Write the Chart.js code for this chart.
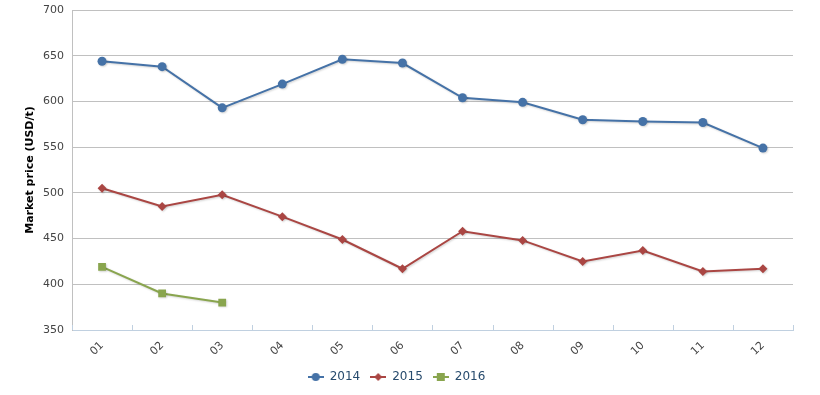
<!DOCTYPE html>
<html>
<head>
<meta charset="utf-8">
<script src="https://cdn.jsdelivr.net/npm/chart.js@4"></script>
<style>
  html, body { margin: 0; padding: 0; background: #fff; }
  #wrap { width: 820px; height: 395px; }
</style>
</head>
<body>
<div id="wrap"><canvas id="chart" width="820" height="395"></canvas></div>
<script>
const months = ['01', '02', '03', '04', '05', '06', '07', '08', '09', '10', '11', '12'];
const price2014 = [644, 638, 593, 619, 646, 642, 604, 599, 580, 578, 577, 549];
const price2015 = [505, 485, 498, 474, 449, 417, 458, 448, 425, 437, 414, 417];
const price2016 = [419, 390, 380];
const yTicks = [350, 400, 450, 500, 550, 600, 650, 700];

const COLORS = { y2014: '#4572A7', y2015: '#AA4643', y2016: '#89A54E' };
const FONT = 'DejaVu Sans, Verdana, sans-serif';

// legend icon: short line with the marker on it
function legendIcon(color, style) {
  const c = document.createElement('canvas');
  c.width = 16;
  c.height = 10;
  const g = c.getContext('2d');
  g.strokeStyle = color;
  g.lineWidth = 2;
  g.beginPath();
  g.moveTo(0, 5);
  g.lineTo(16, 5);
  g.stroke();
  g.fillStyle = color;
  g.beginPath();
  if (style === 'circle') {
    g.arc(8, 5, 4, 0, Math.PI * 2);
  } else if (style === 'rectRot') {
    g.moveTo(8, 1); g.lineTo(12, 5); g.lineTo(8, 9); g.lineTo(4, 5); g.closePath();
  } else {
    g.rect(4, 1, 8, 8);
  }
  g.fill();
  return c;
}

// small tick marks pointing up from the x axis, at category boundaries
const xTickMarks = {
  id: 'xTickMarks',
  afterDatasetsDraw(chart) {
    const x = chart.scales.x;
    const ctx = chart.ctx;
    const half = (x.getPixelForValue(1) - x.getPixelForValue(0)) / 2;
    ctx.save();
    ctx.strokeStyle = '#C0D0E0';
    ctx.lineWidth = 1;
    for (let i = 0; i <= months.length; i++) {
      const px = Math.round(x.getPixelForValue(i) - half) + 0.5;
      ctx.beginPath();
      ctx.moveTo(px, x.top);
      ctx.lineTo(px, x.top - 5);
      ctx.stroke();
    }
    ctx.restore();
  }
};

// faint shadow under the series lines
const lineShadow = {
  id: 'lineShadow',
  beforeDatasetDraw(chart) {
    const ctx = chart.ctx;
    ctx.save();
    ctx.shadowColor = 'rgba(0,0,0,0.18)';
    ctx.shadowBlur = 2;
    ctx.shadowOffsetX = 1;
    ctx.shadowOffsetY = 1;
  },
  afterDatasetDraw(chart) {
    chart.ctx.restore();
  }
};

const series = [
  { label: '2014', data: price2014, color: COLORS.y2014, style: 'circle', r: 4.5 },
  { label: '2015', data: price2015, color: COLORS.y2015, style: 'rectRot', r: 4.5 },
  { label: '2016', data: price2016, color: COLORS.y2016, style: 'rect', r: 5.5 }
];

new Chart(document.getElementById('chart').getContext('2d'), {
  type: 'line',
  data: {
    labels: months,
    datasets: series.map((s) => ({
      label: s.label,
      data: s.data,
      borderColor: s.color,
      backgroundColor: s.color,
      borderWidth: 2,
      pointStyle: s.style,
      pointRadius: s.r,
      pointBorderWidth: 0,
      pointBackgroundColor: s.color,
      tension: 0,
      fill: false
    }))
  },
  options: {
    responsive: false,
    animation: false,
    layout: { padding: { left: 0, right: 27, top: 10, bottom: 2 } },
    plugins: {
      tooltip: { enabled: false },
      legend: {
        position: 'bottom',
        labels: {
          usePointStyle: true,
          pointStyleWidth: 16,
          boxHeight: 10,
          padding: 10,
          color: '#274b6d',
          font: { family: FONT, size: 12 },
          generateLabels(chart) {
            return chart.data.datasets.map((d, i) => ({
              text: d.label,
              fillStyle: d.borderColor,
              strokeStyle: d.borderColor,
              lineWidth: 0,
              pointStyle: legendIcon(series[i].color, series[i].style),
              hidden: false,
              datasetIndex: i,
              fontColor: '#274b6d'
            }));
          }
        }
      }
    },
    scales: {
      x: {
        offset: true,
        grid: { display: false, drawTicks: false },
        border: { display: true, color: '#C0D0E0', width: 1 },
        ticks: {
          color: '#444',
          font: { family: FONT, size: 11 },
          minRotation: 45,
          maxRotation: 45,
          padding: 9
        },
        afterFit(scale) { scale.height = 31; }
      },
      y: {
        min: 350,
        max: 700,
        afterBuildTicks(scale) { scale.ticks = yTicks.map((v) => ({ value: v })); },
        grid: { color: '#C0C0C0', drawTicks: false },
        border: { display: true, color: '#C0C0C0' },
        ticks: {
          color: '#444',
          font: { family: FONT, size: 11 },
          padding: 8
        },
        title: {
          display: true,
          text: 'Market price (USD/t)',
          color: '#000',
          font: { family: FONT, size: 11, weight: 'bold' },
          padding: { top: 24, bottom: 0 }
        },
        afterFit(scale) {
          scale.width = 72;
          scale.paddingTop = 0;
          scale.paddingBottom = 0;
        }
      }
    }
  },
  plugins: [xTickMarks, lineShadow]
});
</script>
</body>
</html>
